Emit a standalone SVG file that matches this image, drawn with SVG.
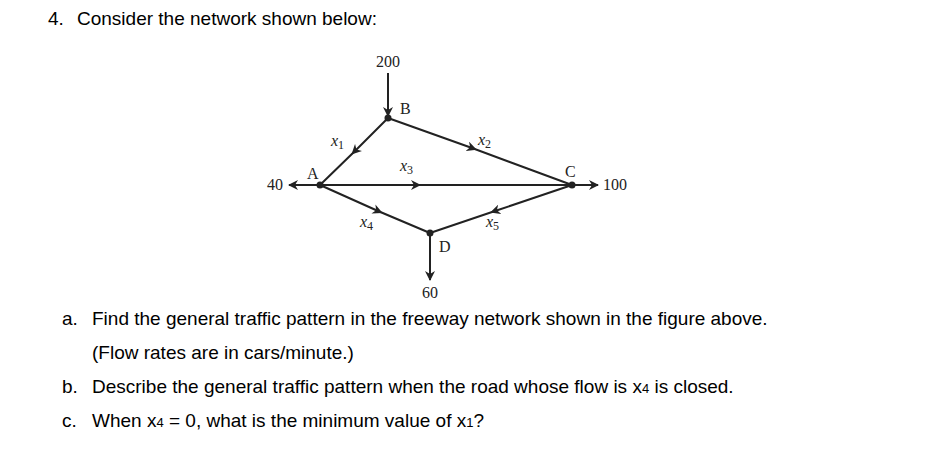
<svg xmlns="http://www.w3.org/2000/svg" width="933" height="471" viewBox="0 0 933 471">
<style>
.q{font-family:"Liberation Sans",Arial,sans-serif;font-size:19px;fill:#000}
.d{font-family:"Liberation Serif","Times New Roman",serif;font-size:16px;fill:#222}
.i{font-style:italic}
.e{stroke:#222;stroke-width:2;fill:none}
</style>
<defs>
<marker id="ah" viewBox="0 0 10 10" refX="9" refY="5" markerWidth="5" markerHeight="5" orient="auto"><path d="M0,0L10,5L0,10L3,5Z" fill="#222"/></marker>
<marker id="mh" viewBox="0 0 10 10" refX="5" refY="5" markerWidth="5" markerHeight="5" orient="auto"><path d="M0,0L10,5L0,10L3,5Z" fill="#222"/></marker>
</defs>
<rect width="933" height="471" fill="#fff"/>
<text class="q" x="48" y="25">4.<tspan x="77">Consider the network shown below:</tspan></text>
<g id="connectors">
<line class="e" x1="388" y1="73" x2="388" y2="116" marker-end="url(#ah)"/>
<line class="e" x1="320" y1="185" x2="289" y2="185" marker-end="url(#ah)"/>
<line class="e" x1="572" y1="185" x2="598" y2="185" marker-end="url(#ah)"/>
<line class="e" x1="430" y1="233" x2="430" y2="280" marker-end="url(#ah)"/>
<polyline class="e" points="388,118 355,151 320,185" marker-mid="url(#mh)"/>
<polyline class="e" points="388,118 472,148 572,185" marker-mid="url(#mh)"/>
<polyline class="e" points="320,185 416,185 572,185" marker-mid="url(#mh)"/>
<polyline class="e" points="320,185 378,211 430,233" marker-mid="url(#mh)"/>
<polyline class="e" points="572,185 495,211 430,233" marker-mid="url(#mh)"/>
</g>
<g id="B"><circle cx="388" cy="118" r="3.5" fill="#222"/><text class="d" x="400" y="114">B</text></g>
<g id="A"><circle cx="320" cy="185" r="3.5" fill="#222"/><text class="d" x="307" y="179">A</text></g>
<g id="C"><circle cx="572" cy="185" r="3.5" fill="#222"/><text class="d" x="565" y="177">C</text></g>
<g id="D"><circle cx="430" cy="233" r="3.5" fill="#222"/><text class="d" x="439" y="252">D</text></g>
<g id="labels">
<text class="d" x="388" y="67" text-anchor="middle">200</text>
<text class="d" x="283" y="190" text-anchor="end">40</text>
<text class="d" x="603" y="190">100</text>
<text class="d" x="430" y="298" text-anchor="middle">60</text>
<text class="d" x="331" y="146"><tspan class="i">x</tspan><tspan font-size="12" dy="3">1</tspan></text>
<text class="d" x="478" y="145"><tspan class="i">x</tspan><tspan font-size="12" dy="3">2</tspan></text>
<text class="d" x="400" y="171"><tspan class="i">x</tspan><tspan font-size="12" dy="3">3</tspan></text>
<text class="d" x="360" y="227"><tspan class="i">x</tspan><tspan font-size="12" dy="3">4</tspan></text>
<text class="d" x="486" y="227"><tspan class="i">x</tspan><tspan font-size="12" dy="3">5</tspan></text>
</g>
<text class="q" x="62" y="325">a.<tspan x="92">Find the general traffic pattern in the freeway network shown in the figure above.</tspan></text>
<text class="q" x="92" y="359">(Flow rates are in cars/minute.)</text>
<text class="q" x="62" y="393">b.<tspan x="92">Describe the general traffic pattern when the road whose flow is x</tspan><tspan font-size="13">4</tspan> is closed.</text>
<text class="q" x="62" y="427">c.<tspan x="92">When x</tspan><tspan font-size="13">4</tspan> = 0, what is the minimum value of x<tspan font-size="13">1</tspan>?</text>
</svg>
